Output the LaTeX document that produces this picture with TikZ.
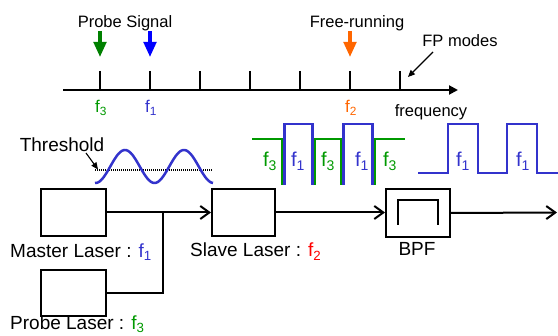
\documentclass[tikz,border=0pt]{standalone}
\usepackage{fontspec}
\setmainfont{Liberation Sans}
\usetikzlibrary{arrows.meta,calc}
\definecolor{wblue}{RGB}{51,51,204}
\definecolor{wgreen}{RGB}{0,153,0}
\definecolor{dgreen}{RGB}{0,128,0}
\definecolor{orng}{RGB}{255,102,0}
\newcommand{\fs}[1]{f\textsubscript{#1}}
\begin{document}
\begin{tikzpicture}[x=1pt,y=-1pt,
  box/.style={draw,line width=2pt,minimum width=64pt,minimum height=47pt,inner sep=0pt},
  conn/.style={line width=2pt,-{Straight Barb[length=9pt,width=13pt,line width=2pt]}},
  toplbl/.style={anchor=base,inner sep=0pt,font=\fontsize{16.5}{18}\selectfont},
  axlbl/.style={anchor=base,inner sep=0pt,font=\fontsize{17}{18}\selectfont},
  wavlbl/.style={anchor=base,inner sep=0pt,font=\fontsize{20}{22}\selectfont},
  lbl/.style={anchor=base west,inner sep=0pt,font=\fontsize{19}{21}\selectfont},
  bigarrow/.style={line width=3.3pt,-{Triangle[length=15pt,width=12.5pt]}},
  thinarrow/.style={line width=1.1pt,-{Triangle[length=7pt,width=6pt]}},
  wave/.style={line width=2.5pt,line join=miter}
]
\useasboundingbox (0,0) rectangle (558,336);

% frequency axis
\coordinate (axstart) at (63,90);
\coordinate (axend) at (458,90);
\draw[line width=2pt,-{Triangle[length=9pt,width=9pt]}] (axstart) -- (axend);
\foreach \x in {100,150,...,400} \draw[line width=2pt] (\x,71) -- (\x,90);

% top labels and arrows
\node[toplbl] (probesig) at (125,28) {Probe Signal};
\node[toplbl] (freerun) at (357,28) {Free-running};
\node[toplbl] (fpmodes) at (460,46.5) {FP modes};
\coordinate (ga) at (100,31); \coordinate (gb) at (100,57);
\coordinate (ba) at (150,31); \coordinate (bb) at (150,57);
\coordinate (oa) at (350,31); \coordinate (ob) at (350,57);
\draw[bigarrow,dgreen] (ga) -- (gb);
\draw[bigarrow,blue] (ba) -- (bb);
\draw[bigarrow,orng] (oa) -- (ob);
\coordinate (fpa) at (433,52); \coordinate (fpb) at (408,77);
\draw[thinarrow] (fpa) -- (fpb);

% axis labels
\node[axlbl,text=wgreen] (lf3) at (101,113) {\fs{3}};
\node[axlbl,text=wblue] (lf1) at (151,113) {\fs{1}};
\node[axlbl,text=orng] (lf2) at (351,113) {\fs{2}};
\node[anchor=base,inner sep=0pt,font=\fontsize{16.5}{18}\selectfont] (freq) at (431,116.7) {frequency};

% threshold and sine
\node[anchor=base,inner sep=0pt,font=\fontsize{19}{21}\selectfont] (thr) at (62,151.7) {Threshold};
\coordinate (tha) at (86,153); \coordinate (thb) at (98,169.5);
\draw[thinarrow] (tha) -- (thb);
\draw[line width=1.1pt,dash pattern=on 1pt off 1pt] (95,170) -- (212,170);
\draw[wave,wblue,smooth] plot[domain=95:213,samples=80] (\x,{166.5-16.5*cos(6.10169*(\x-125))});

% square waves (mixed)
\draw[wave,wgreen] (252,139) -- (282,139) -- (282,185);
\draw[wave,wblue] (284.5,185) -- (284.5,124) -- (312.5,124) -- (312.5,185);
\draw[wave,wgreen] (315,185) -- (315,139) -- (341,139) -- (341,185);
\draw[wave,wblue] (343.5,185) -- (343.5,124) -- (372.5,124) -- (372.5,185);
\draw[wave,wgreen] (375,185) -- (375,139) -- (405,139);
\node[wavlbl,text=wgreen] (w1) at (270,167) {\fs{3}};
\node[wavlbl,text=wblue] (w2) at (298,167) {\fs{1}};
\node[wavlbl,text=wgreen] (w3) at (328,167) {\fs{3}};
\node[wavlbl,text=wblue] (w4) at (362,167) {\fs{1}};
\node[wavlbl,text=wgreen] (w5) at (390,167) {\fs{3}};

% filtered square wave
\draw[wave,wblue] (418,173) -- (448,173) -- (448,124) -- (478,124) -- (478,173) -- (507,173) -- (507,124) -- (537,124) -- (537,173) -- (560,173);
\node[wavlbl,text=wblue] (w6) at (463,167) {\fs{1}};
\node[wavlbl,text=wblue] (w7) at (523,167) {\fs{1}};

% boxes
\node[box,minimum width=65pt] (master) at (73.5,212.5) {};
\node[box,minimum width=65pt,minimum height=46pt] (probe) at (73.5,293) {};
\node[box,minimum width=63pt] (slave) at (243.5,212.5) {};
\node[box,minimum height=48pt] (bpf) at (418,213) {};
\draw[line width=2pt] ($(bpf.center)+(-20,12)$) -- ($(bpf.center)+(-20,-13)$) -- ($(bpf.center)+(20,-13)$) -- ($(bpf.center)+(20,12)$);

% connectors
\coordinate (junc) at (163,212.5);
\coordinate (outp) at (557,212.5);
\draw[conn] (master.east) -- (slave.west);
\draw[line width=2pt] (probe.east) -| (junc);
\draw[conn] (slave.east) -- (slave.east -| bpf.west);
\draw[conn] (bpf.east) -- (outp);

% box labels
\node[lbl] (mlbl) at (10,257.3) {Master Laser : \textcolor{wblue}{\fs{1}}};
\node[lbl] (slbl) at (190,256.7) {Slave Laser : \textcolor{red}{\fs{2}}};
\node[lbl] (plbl) at (10,329.5) {Probe Laser : \textcolor{wgreen}{\fs{3}}};
\node[anchor=base,inner sep=0pt,font=\fontsize{19}{21}\selectfont] (blbl) at (417,256) {BPF};
\end{tikzpicture}
\end{document}
